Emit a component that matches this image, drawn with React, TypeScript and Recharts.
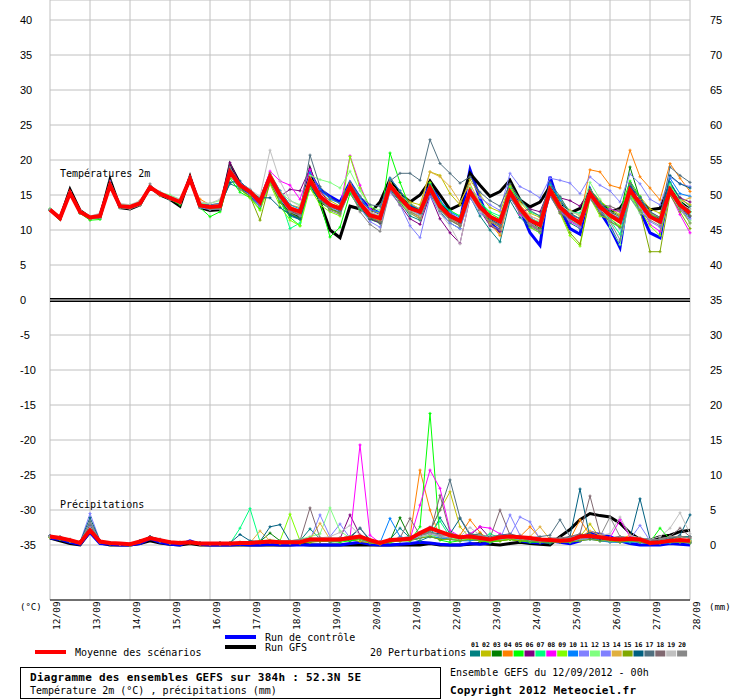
import { LineChart, Line, XAxis, YAxis, CartesianGrid, ReferenceLine } from 'recharts'

// 6-hourly steps from 12/09 00h to 28/09 00h (65 points)
const DAYS = ['12/09', '13/09', '14/09', '15/09', '16/09', '17/09', '18/09', '19/09', '20/09',
  '21/09', '22/09', '23/09', '24/09', '25/09', '26/09', '27/09', '28/09']

const PERT_COLORS = ['#008080', '#c0c000', '#008000', '#ff8000', '#00ff00', '#800080', '#00ff80',
  '#ff00ff', '#80ff00', '#0080ff', '#8080ff', '#80ff80', '#8080ff', '#e0b040', '#80a800', '#006080',
  '#507080', '#806870', '#c0c0c0', '#888888']

// precipitation (mm) shares the axis: 0 mm sits on -35
const PREC_OFFSET = 35

const TEMP_MEAN = [12.9, 11.7, 15.3, 12.6, 11.8, 12.0, 16.4, 13.4, 13.3, 13.8, 16.1, 15.2, 14.6, 14.0, 17.3, 13.5, 13.3, 13.4, 18.3, 16.4, 15.5, 14.0, 17.6, 15.0, 13.1, 12.6, 17.1, 14.8, 13.6, 13.1, 16.2, 13.8, 12.1, 11.7, 16.4, 14.6, 13.1, 12.6, 16.0, 13.4, 12.0, 11.3, 15.5, 13.3, 11.9, 11.2, 15.4, 13.1, 11.4, 10.7, 15.7, 13.3, 11.9, 11.0, 15.2, 13.3, 12.1, 11.2, 15.7, 13.8, 11.9, 11.2, 15.7, 13.6, 12.4]
const TEMP_CTRL = [12.9, 11.7, 15.4, 12.6, 11.7, 12.1, 16.5, 13.3, 13.2, 13.9, 16.0, 15.2, 14.7, 13.9, 17.4, 13.6, 13.2, 13.3, 18.6, 16.0, 15.0, 13.6, 17.4, 14.5, 12.4, 11.6, 17.8, 15.8, 14.8, 14.0, 16.8, 14.6, 13.0, 12.4, 17.0, 15.0, 13.4, 12.8, 16.8, 14.0, 12.3, 11.2, 18.6, 14.5, 11.0, 9.8, 16.8, 13.0, 9.6, 7.8, 17.6, 13.2, 10.2, 9.4, 15.8, 12.6, 10.4, 7.5, 16.8, 12.8, 9.6, 8.9, 16.6, 14.0, 11.7]
const TEMP_GFS = [12.9, 11.6, 15.8, 12.8, 11.8, 11.8, 17.2, 13.2, 13.0, 13.6, 16.2, 15.0, 14.4, 13.4, 17.6, 13.2, 12.8, 12.9, 19.3, 16.6, 15.4, 14.2, 17.8, 14.6, 12.6, 12.0, 18.6, 14.0, 10.0, 8.9, 13.4, 13.0, 12.4, 14.0, 17.2, 15.2, 14.0, 15.0, 17.0, 15.0, 12.9, 13.6, 18.1, 16.4, 14.8, 15.5, 17.1, 14.3, 13.3, 14.0, 16.2, 14.0, 12.4, 13.1, 15.5, 13.8, 12.6, 13.1, 15.2, 14.0, 12.9, 13.1, 16.4, 14.0, 12.9]

const T01 = [12.9, 11.6, 15.2, 12.7, 11.6, 11.8, 16.2, 13.5, 13.4, 13.9, 16.0, 15.0, 14.3, 13.8, 16.8, 13.8, 13.5, 13.6, 16.6, 16.0, 15.2, 13.9, 16.9, 14.0, 12.0, 11.5, 16.0, 14.2, 13.0, 12.4, 15.6, 13.0, 11.5, 11.0, 15.8, 14.0, 12.0, 11.4, 15.2, 12.6, 11.0, 10.2, 14.8, 12.0, 10.0, 8.3, 14.2, 11.8, 10.4, 9.6, 14.9, 12.6, 11.0, 10.2, 14.6, 12.8, 11.6, 10.4, 16.2, 13.4, 12.0, 11.0, 16.8, 14.6, 13.4]
const T02 = [13.0, 11.8, 15.4, 12.5, 11.9, 12.2, 16.5, 13.3, 13.2, 13.7, 16.2, 15.3, 14.8, 14.2, 17.5, 13.3, 13.1, 13.2, 18.6, 16.8, 15.8, 14.4, 18.2, 15.6, 13.6, 13.2, 17.6, 15.4, 14.2, 13.4, 16.8, 14.6, 12.8, 12.4, 17.4, 15.6, 14.0, 13.6, 18.3, 17.8, 15.2, 13.6, 17.2, 15.0, 13.2, 12.6, 16.4, 14.0, 12.4, 11.8, 16.2, 14.0, 12.8, 12.0, 15.8, 14.2, 13.0, 12.2, 16.6, 14.8, 13.0, 12.4, 16.2, 14.4, 13.6]
const T03 = [12.8, 11.6, 15.1, 12.4, 11.7, 11.9, 16.3, 13.6, 13.5, 13.9, 16.0, 15.1, 14.5, 14.0, 17.0, 13.6, 13.2, 13.0, 17.8, 15.8, 14.8, 13.4, 17.0, 14.0, 12.4, 11.8, 16.4, 14.0, 13.0, 12.6, 15.8, 13.2, 11.6, 11.2, 16.8, 15.0, 13.6, 12.8, 16.6, 13.8, 12.4, 11.4, 15.0, 12.8, 11.6, 10.6, 15.0, 12.4, 11.2, 10.2, 16.0, 13.6, 12.4, 11.6, 15.6, 13.6, 12.8, 12.0, 19.0, 14.4, 12.4, 11.6, 15.8, 13.4, 12.0]
const T04 = [12.9, 11.8, 15.3, 12.7, 11.8, 12.1, 16.4, 13.5, 13.3, 14.2, 15.9, 14.9, 14.6, 14.2, 16.9, 14.4, 13.6, 13.8, 17.6, 16.2, 15.6, 13.8, 17.2, 14.6, 12.8, 12.2, 16.8, 14.4, 13.2, 12.8, 15.6, 13.4, 11.8, 11.4, 16.0, 14.2, 12.6, 11.8, 15.6, 13.0, 11.6, 10.8, 15.0, 13.0, 11.0, 9.2, 15.6, 13.6, 12.0, 11.4, 15.8, 13.6, 12.2, 11.6, 18.6, 18.3, 16.4, 16.0, 21.4, 17.6, 16.0, 14.3, 19.5, 17.4, 15.5]
const T05 = [12.8, 11.5, 15.2, 12.4, 11.4, 11.5, 16.3, 13.2, 13.1, 13.6, 16.2, 15.2, 14.4, 13.6, 17.1, 13.2, 11.9, 12.6, 17.4, 15.4, 14.6, 13.0, 17.0, 14.2, 11.8, 10.6, 17.4, 14.0, 9.0, 10.4, 15.2, 13.0, 11.6, 11.0, 21.0, 16.8, 13.2, 12.4, 16.4, 14.0, 12.8, 12.0, 15.8, 13.8, 12.4, 11.6, 15.2, 13.2, 11.0, 10.0, 15.0, 12.8, 11.8, 11.2, 15.8, 14.0, 13.0, 12.6, 17.0, 14.8, 12.2, 11.6, 16.0, 13.8, 12.6]
const T06 = [12.9, 11.7, 15.2, 12.6, 11.9, 12.0, 16.2, 13.3, 13.2, 13.7, 16.0, 15.1, 14.4, 13.8, 17.0, 13.4, 13.4, 13.5, 19.6, 16.6, 15.2, 13.6, 17.0, 14.8, 15.8, 15.6, 18.8, 15.6, 13.8, 12.8, 15.8, 13.4, 11.6, 11.0, 15.6, 13.6, 11.6, 10.8, 15.0, 11.6, 9.6, 8.1, 14.6, 12.8, 10.6, 9.8, 14.6, 12.6, 13.0, 12.6, 16.2, 14.6, 14.2, 13.4, 15.6, 13.6, 12.6, 11.8, 15.8, 14.2, 12.6, 11.6, 16.0, 14.6, 14.0]
const T07 = [13.0, 11.8, 15.4, 12.7, 11.9, 12.1, 16.5, 13.4, 13.3, 13.8, 16.1, 15.2, 14.7, 14.1, 17.3, 13.6, 13.4, 13.5, 18.0, 16.2, 15.4, 13.8, 17.4, 14.6, 10.2, 11.0, 16.6, 14.4, 13.4, 12.8, 16.4, 14.0, 12.4, 12.0, 16.8, 15.0, 13.8, 13.0, 16.6, 14.0, 12.6, 12.0, 16.0, 14.0, 12.6, 12.0, 16.0, 14.4, 12.6, 12.0, 16.4, 14.6, 12.6, 12.4, 15.4, 13.6, 11.4, 9.4, 14.8, 12.8, 12.4, 11.4, 16.6, 14.2, 12.6]
const T08 = [12.9, 11.7, 15.3, 12.5, 11.8, 12.0, 16.5, 13.4, 13.3, 13.8, 16.2, 15.2, 14.6, 14.0, 17.4, 13.5, 13.3, 13.6, 18.4, 16.8, 15.6, 14.4, 18.4, 17.0, 16.4, 14.4, 18.6, 15.2, 13.6, 13.2, 20.6, 16.4, 13.0, 12.4, 16.2, 14.4, 13.2, 12.6, 16.0, 13.6, 12.0, 11.2, 15.6, 13.0, 11.2, 10.4, 15.0, 12.2, 11.0, 10.0, 15.4, 12.8, 11.2, 10.4, 14.6, 13.0, 13.0, 12.6, 15.8, 13.8, 10.8, 9.8, 15.2, 12.2, 9.6]
const T09 = [12.8, 11.6, 15.1, 12.5, 11.6, 11.8, 16.1, 13.2, 13.2, 13.6, 15.9, 15.0, 14.6, 13.9, 17.0, 13.4, 13.2, 13.2, 17.8, 15.8, 14.6, 12.8, 16.6, 13.4, 11.4, 10.6, 16.0, 13.6, 12.6, 12.0, 20.5, 16.0, 13.4, 12.2, 16.6, 14.0, 12.4, 11.6, 16.8, 13.8, 12.0, 11.4, 16.0, 13.6, 12.0, 11.2, 16.2, 13.4, 10.4, 9.6, 15.4, 12.4, 9.2, 7.7, 14.6, 12.0, 11.6, 10.6, 15.0, 13.0, 10.6, 9.2, 15.4, 13.0, 11.0]
const T10 = [12.9, 11.7, 15.4, 12.7, 11.8, 12.0, 16.6, 13.5, 13.4, 14.0, 16.2, 15.4, 14.8, 14.2, 17.6, 13.8, 13.6, 13.8, 18.6, 16.8, 15.8, 14.4, 18.0, 15.6, 13.6, 13.0, 18.2, 15.8, 14.4, 13.8, 16.8, 14.6, 12.8, 12.6, 17.4, 15.6, 13.6, 13.0, 16.4, 14.2, 12.6, 11.8, 15.6, 13.8, 12.0, 11.4, 14.8, 12.8, 11.8, 11.0, 16.6, 14.2, 12.2, 11.6, 15.6, 13.8, 12.6, 11.6, 16.2, 14.6, 12.6, 11.8, 17.4, 15.2, 14.8]
const T11 = [12.9, 11.8, 15.5, 12.8, 11.9, 12.2, 17.0, 13.6, 13.4, 13.9, 16.1, 15.2, 14.6, 14.0, 17.2, 13.6, 13.4, 13.4, 18.4, 16.4, 15.6, 14.2, 17.8, 15.4, 13.2, 12.8, 17.4, 15.0, 13.8, 13.2, 16.4, 14.2, 12.4, 11.8, 16.4, 14.2, 12.8, 12.2, 15.8, 13.2, 12.4, 11.6, 15.8, 14.6, 13.6, 12.8, 18.1, 16.2, 15.5, 14.6, 17.4, 17.1, 16.7, 15.2, 17.6, 16.4, 15.6, 14.0, 18.0, 16.6, 14.4, 13.6, 17.6, 16.6, 16.2]
const T12 = [13.0, 11.7, 15.3, 12.6, 11.8, 12.2, 16.4, 13.6, 13.6, 14.0, 16.2, 15.4, 15.0, 14.4, 17.2, 13.8, 13.8, 14.2, 18.0, 16.4, 15.6, 14.6, 17.6, 15.4, 14.2, 13.6, 17.8, 17.2, 16.8, 16.0, 18.4, 15.6, 13.4, 12.8, 16.6, 14.4, 12.6, 12.0, 15.6, 13.0, 11.4, 10.6, 15.0, 12.8, 11.4, 10.6, 15.6, 13.6, 11.6, 11.2, 16.0, 13.6, 12.6, 12.2, 16.8, 14.4, 10.4, 7.9, 14.6, 12.4, 11.8, 10.8, 16.4, 14.2, 11.4]
const T13 = [12.9, 11.6, 15.2, 12.5, 11.7, 11.9, 16.2, 13.2, 13.1, 13.6, 15.9, 15.0, 14.4, 13.8, 17.0, 13.2, 12.9, 13.0, 17.8, 15.8, 15.0, 13.4, 16.8, 14.4, 12.6, 12.0, 16.6, 14.4, 13.2, 12.6, 15.6, 13.2, 11.2, 10.4, 15.4, 13.6, 10.6, 8.9, 14.8, 12.4, 11.0, 10.2, 14.6, 12.4, 11.4, 10.6, 14.6, 12.6, 10.8, 9.8, 14.8, 12.6, 11.4, 10.4, 14.4, 12.6, 11.4, 10.2, 15.2, 13.2, 11.2, 10.4, 15.0, 12.8, 11.6]
const T14 = [12.9, 11.7, 15.3, 12.6, 11.8, 12.0, 16.4, 13.4, 13.4, 13.9, 16.1, 15.3, 14.7, 14.1, 17.3, 13.5, 13.5, 13.6, 18.2, 16.2, 15.4, 14.0, 17.8, 15.2, 13.4, 12.8, 17.0, 14.8, 13.8, 13.2, 16.6, 14.0, 12.6, 12.0, 16.8, 15.0, 13.8, 13.0, 18.3, 17.6, 16.2, 14.0, 16.6, 13.8, 11.0, 9.4, 14.8, 12.8, 11.6, 10.8, 15.6, 13.2, 12.0, 11.2, 15.6, 13.6, 12.6, 12.0, 16.6, 14.4, 12.4, 11.8, 15.8, 14.0, 14.6]
const T15 = [12.8, 11.6, 15.2, 12.5, 11.6, 11.8, 16.2, 13.3, 13.2, 13.6, 16.0, 15.0, 14.4, 13.8, 17.1, 13.4, 13.0, 13.1, 18.0, 15.9, 14.8, 11.4, 16.8, 14.0, 12.4, 11.6, 16.8, 14.2, 13.0, 12.4, 15.8, 13.4, 11.8, 11.2, 16.2, 14.4, 12.8, 12.0, 15.8, 13.2, 11.4, 10.6, 15.2, 13.0, 11.2, 10.4, 15.4, 12.8, 10.8, 10.0, 15.2, 12.6, 9.6, 8.0, 14.6, 12.4, 11.2, 10.4, 15.4, 12.8, 6.9, 6.9, 15.0, 12.6, 10.2]
const T16 = [12.9, 11.7, 15.3, 12.6, 11.8, 12.0, 16.3, 13.4, 13.3, 13.8, 16.0, 15.1, 14.5, 13.9, 17.2, 13.4, 13.2, 13.3, 16.8, 17.0, 15.4, 14.6, 14.6, 13.2, 12.2, 11.6, 16.4, 14.2, 13.4, 12.8, 16.0, 13.6, 12.0, 11.6, 16.0, 14.2, 13.0, 12.4, 15.8, 13.2, 11.8, 11.0, 15.4, 13.2, 11.6, 10.8, 15.4, 13.0, 11.4, 10.8, 15.8, 13.4, 12.0, 11.2, 15.4, 13.6, 12.6, 11.8, 16.2, 14.6, 12.0, 11.4, 17.8, 16.6, 16.0]
const T17 = [12.9, 11.7, 15.3, 12.6, 11.8, 12.0, 16.4, 13.4, 13.3, 13.8, 16.2, 15.2, 14.6, 14.0, 17.4, 13.6, 13.4, 13.5, 18.8, 16.6, 15.6, 14.0, 17.6, 15.0, 13.2, 12.6, 20.7, 16.2, 14.6, 13.8, 16.8, 14.8, 13.6, 13.4, 17.0, 18.1, 18.1, 17.1, 22.9, 19.5, 18.1, 16.7, 17.6, 15.4, 14.2, 13.4, 16.6, 14.4, 12.8, 12.0, 16.8, 14.8, 12.4, 11.6, 15.8, 14.0, 12.4, 11.6, 16.6, 14.6, 12.6, 11.8, 19.0, 17.8, 16.8]
const T18 = [12.9, 11.7, 15.3, 12.6, 11.8, 12.0, 16.3, 13.4, 13.3, 13.8, 16.1, 15.2, 14.5, 13.9, 17.2, 13.4, 13.2, 13.3, 18.2, 16.2, 15.2, 13.8, 17.4, 14.8, 12.8, 12.2, 16.8, 14.4, 13.4, 12.8, 15.8, 13.4, 11.8, 11.2, 16.0, 14.2, 12.6, 12.0, 15.4, 12.8, 11.4, 10.6, 15.0, 12.8, 11.4, 10.6, 14.8, 12.6, 10.6, 9.8, 15.0, 12.4, 11.6, 10.8, 14.8, 13.6, 13.4, 12.8, 15.4, 13.8, 12.2, 11.4, 15.4, 13.0, 12.0]
const T19 = [12.9, 11.8, 15.4, 12.8, 12.0, 12.4, 16.4, 13.8, 13.6, 14.2, 16.2, 15.4, 14.8, 14.4, 17.4, 14.0, 13.8, 14.4, 17.6, 16.6, 15.8, 14.8, 21.4, 17.0, 14.2, 13.4, 17.4, 15.0, 13.8, 13.2, 16.4, 14.2, 12.6, 12.0, 16.4, 14.8, 12.8, 12.0, 15.6, 12.4, 10.6, 8.0, 14.8, 12.6, 11.8, 11.0, 15.2, 13.2, 12.0, 11.4, 15.4, 13.6, 12.6, 12.2, 15.0, 13.4, 12.4, 11.8, 15.6, 13.4, 12.0, 11.2, 15.6, 13.8, 13.0]
const T20 = [12.8, 11.6, 15.2, 12.4, 11.6, 11.7, 16.2, 13.2, 13.0, 13.5, 16.6, 15.0, 14.4, 13.8, 17.6, 13.4, 13.0, 13.0, 19.0, 16.6, 15.4, 13.6, 17.4, 14.6, 12.6, 12.0, 17.0, 14.4, 12.8, 12.2, 15.6, 12.6, 10.8, 9.8, 15.6, 13.6, 12.4, 11.6, 15.4, 12.8, 11.6, 10.8, 15.2, 13.0, 10.8, 10.0, 14.8, 12.4, 10.8, 10.0, 15.4, 13.0, 11.4, 10.6, 15.0, 12.8, 11.2, 8.6, 14.6, 12.6, 11.4, 10.6, 15.4, 13.4, 11.0]

const PREC_MEAN = [1.2, 1.0, 0.7, 0.3, 2.1, 0.5, 0.3, 0.2, 0.1, 0.5, 1.0, 0.7, 0.4, 0.3, 0.4, 0.2, 0.2, 0.2, 0.2, 0.3, 0.3, 0.4, 0.5, 0.4, 0.4, 0.4, 0.8, 0.8, 0.8, 0.8, 1.0, 1.2, 0.7, 0.3, 0.7, 0.8, 0.9, 1.7, 2.4, 1.9, 1.4, 1.1, 1.2, 1.0, 0.8, 1.1, 1.2, 1.1, 1.0, 0.8, 0.7, 0.6, 0.7, 1.2, 1.3, 1.1, 0.9, 0.8, 0.9, 0.8, 0.3, 0.4, 0.6, 0.7, 0.6]
const PREC_CTRL = [1.0, 0.8, 0.4, 0.1, 1.8, 0.2, 0.1, 0, 0, 0.2, 0.9, 0.4, 0.1, 0, 0.6, 0.1, 0, 0, 0, 0.1, 0, 0, 0.1, 0, 0, 0, 0, 0, 0, 0, 0.2, 0.4, 0.1, 0, 0, 0.1, 0.2, 0.4, 0.3, 0.1, 0, 0, 0.2, 0.1, 0.3, 1.4, 1.2, 0.6, 0.4, 0.3, 0.6, 0.4, 0.2, 0.6, 1.8, 1.5, 1.2, 0.6, 0.2, 0, 0, 0, 0.2, 0.1, 0]
const PREC_GFS = [1.0, 0.6, 0.2, 0, 1.9, 0.3, 0, 0, 0, 0.2, 0.6, 0.3, 0.1, 0, 0.2, 0, 0, 0, 0, 0, 0, 0, 0, 0, 0, 0.1, 0, 0, 0, 0, 0, 0, 0, 0, 0, 0, 0, 0, 0.2, 0, 0, 0, 0.1, 0.2, 0.1, 0, 0.2, 0.4, 0.2, 0.1, 0, 1.2, 2.2, 3.6, 4.5, 4.2, 4.0, 3.1, 1.7, 0.8, 0.7, 1.2, 1.4, 1.9, 2.1]

const R01 = [1.3, 1.0, 0.6, 0.4, 2.8, 0.5, 0.2, 0.1, 0, 0.4, 1.2, 0.8, 0.5, 0.3, 0.4, 0.2, 0.1, 0.2, 0.1, 0.3, 0.2, 0.3, 0.6, 0.4, 0.5, 0.6, 2.3, 0.9, 0.4, 0.6, 0.8, 1.0, 0.6, 0.2, 0.8, 2.4, 1.0, 0.6, 1.2, 3.9, 1.6, 0.8, 1.0, 0.6, 0.4, 0.8, 1.2, 0.6, 0.8, 0.4, 0.2, 0.6, 0.4, 0.8, 1.0, 0.6, 0.5, 0.4, 0.6, 0.4, 0.2, 0.4, 0.6, 1.2, 1.2]
const R02 = [1.1, 0.9, 0.7, 0.2, 2.2, 0.4, 0.2, 0.1, 0.1, 0.6, 1.0, 0.6, 0.3, 0.4, 0.3, 0.1, 0.2, 0.1, 0.2, 0.2, 0.3, 0.6, 0.4, 0.2, 0.2, 0.3, 0.4, 0.6, 1.0, 0.6, 0.8, 0.5, 0.3, 0.1, 0.5, 0.6, 0.8, 1.4, 2.0, 5.0, 7.6, 2.6, 1.0, 0.6, 0.4, 0.6, 0.8, 1.4, 0.6, 0.4, 0.8, 0.5, 0.6, 1.2, 3.0, 1.0, 0.4, 0.6, 0.8, 0.5, 0.2, 0.3, 0.6, 0.4, 0.5]
const R03 = [1.2, 1.1, 0.6, 0.3, 2.4, 0.5, 0.3, 0.2, 0.1, 0.5, 1.1, 0.7, 0.4, 0.2, 0.5, 0.3, 0.2, 0.3, 0.2, 0.4, 0.3, 0.5, 1.7, 0.6, 0.4, 0.5, 0.6, 0.7, 0.6, 0.8, 0.6, 0.9, 0.4, 0.2, 0.6, 3.9, 1.0, 1.6, 1.2, 0.8, 1.0, 0.8, 1.4, 1.6, 0.6, 1.0, 0.8, 0.6, 0.8, 0.6, 0.4, 0.4, 0.6, 1.4, 1.6, 1.0, 0.8, 1.0, 0.6, 0.4, 0.2, 0.2, 0.4, 0.6, 0.3]
const R04 = [1.2, 1.0, 0.8, 0.3, 2.0, 0.6, 0.3, 0.1, 0.1, 0.5, 1.0, 0.7, 0.4, 0.3, 0.4, 0.2, 0.2, 0.2, 0.3, 0.2, 0.3, 0.4, 0.6, 0.5, 0.4, 0.3, 0.8, 0.6, 0.6, 1.0, 1.2, 0.8, 0.5, 0.3, 0.6, 0.8, 1.2, 10.7, 5.0, 1.0, 0.8, 1.4, 3.6, 1.8, 0.6, 0.8, 1.0, 1.2, 2.6, 1.0, 0.6, 0.6, 0.8, 3.6, 1.4, 1.0, 0.6, 0.8, 1.4, 0.8, 0.4, 0.4, 0.8, 1.2, 1.0]
const R05 = [1.1, 0.8, 0.5, 0.2, 2.0, 0.4, 0.2, 0.1, 0, 0.4, 0.9, 0.6, 0.3, 0.2, 0.3, 0.1, 0.1, 0.1, 0.2, 0.2, 0.2, 0.3, 0.4, 0.3, 0.3, 0.2, 0.6, 0.7, 0.5, 0.4, 0.6, 0.8, 0.6, 0.2, 0.4, 0.6, 0.6, 2.6, 18.8, 0.7, 0.4, 0.6, 0.8, 0.6, 0.4, 0.6, 0.8, 0.6, 0.4, 0.4, 0.6, 0.4, 0.4, 0.8, 1.0, 0.8, 0.6, 0.6, 0.4, 0.6, 0.4, 2.4, 0.8, 0.6, 0.4]
const R06 = [1.3, 1.1, 0.7, 0.4, 2.5, 0.5, 0.3, 0.2, 0.1, 0.6, 1.1, 0.7, 0.4, 0.3, 0.4, 0.2, 0.2, 0.2, 0.2, 0.3, 0.3, 0.4, 0.5, 0.4, 0.4, 0.5, 0.7, 0.8, 0.8, 0.9, 4.3, 1.4, 0.6, 0.4, 0.8, 0.6, 0.8, 1.2, 1.6, 1.2, 1.0, 0.8, 1.4, 2.6, 1.0, 0.8, 1.2, 1.0, 0.8, 0.6, 0.6, 0.4, 0.6, 1.0, 1.4, 1.2, 0.8, 0.6, 0.8, 0.6, 0.3, 0.4, 0.6, 0.8, 0.6]
const R07 = [1.2, 0.9, 0.6, 0.3, 2.3, 0.4, 0.2, 0.1, 0, 0.5, 1.0, 0.6, 0.4, 0.3, 0.4, 0.2, 0.2, 0.1, 0.2, 2.4, 5.2, 0.5, 0.4, 0.3, 0.3, 0.4, 0.6, 0.6, 0.6, 0.7, 0.8, 1.0, 0.5, 0.2, 0.6, 0.8, 1.0, 1.4, 1.8, 3.4, 1.2, 1.0, 0.8, 0.8, 1.6, 1.0, 0.8, 0.8, 0.6, 0.6, 0.8, 0.6, 0.6, 1.0, 1.2, 0.8, 0.6, 0.8, 0.6, 0.6, 0.2, 0.3, 0.4, 0.6, 0.8]
const R08 = [1.2, 1.0, 0.7, 0.3, 2.2, 0.5, 0.3, 0.1, 0.1, 0.5, 1.0, 0.7, 0.4, 0.3, 0.4, 0.2, 0.2, 0.2, 0.2, 0.3, 0.3, 0.4, 0.5, 0.4, 0.4, 0.4, 0.8, 0.6, 0.6, 0.8, 1.0, 14.3, 1.4, 0.3, 0.6, 0.8, 0.8, 5.7, 10.7, 8.1, 2.1, 1.2, 1.6, 2.6, 2.4, 1.6, 1.0, 0.8, 0.6, 0.6, 0.8, 0.6, 0.8, 1.2, 1.4, 1.0, 1.0, 3.6, 1.2, 0.6, 0.2, 0.4, 0.8, 0.6, 0.4]
const R09 = [1.1, 1.0, 0.6, 0.3, 2.1, 0.4, 0.2, 0.1, 0.1, 0.5, 1.0, 0.7, 0.3, 0.3, 0.4, 0.2, 0.1, 0.2, 0.3, 0.3, 0.4, 0.6, 0.7, 0.6, 4.4, 0.6, 0.8, 0.6, 0.7, 0.6, 0.8, 1.0, 0.6, 0.3, 0.6, 0.6, 0.8, 1.2, 1.4, 1.0, 1.0, 0.6, 0.8, 0.6, 0.6, 0.8, 0.8, 0.6, 0.6, 0.6, 0.6, 0.5, 0.6, 1.0, 1.0, 0.6, 0.6, 0.6, 0.6, 0.4, 0.3, 0.4, 0.5, 0.6, 0.5]
const R10 = [1.2, 1.0, 0.6, 0.3, 2.6, 0.5, 0.3, 0.1, 0.1, 0.5, 1.0, 0.6, 0.4, 0.3, 0.5, 0.2, 0.1, 0.2, 0.2, 0.3, 0.3, 0.4, 0.5, 0.4, 0.3, 0.4, 0.6, 0.6, 0.6, 0.6, 0.8, 0.8, 0.4, 0.3, 3.8, 1.2, 0.8, 1.0, 1.2, 1.0, 0.8, 0.6, 0.6, 0.8, 0.6, 0.8, 1.0, 0.8, 0.6, 0.4, 0.4, 0.4, 0.4, 0.6, 0.8, 0.6, 0.4, 0.4, 0.4, 0.4, 0.2, 0.2, 0.3, 0.4, 0.3]
const R11 = [1.3, 1.1, 0.7, 0.4, 4.5, 0.6, 0.3, 0.2, 0.1, 0.6, 1.1, 0.7, 0.4, 0.3, 0.4, 0.2, 0.2, 0.2, 0.2, 0.3, 0.3, 0.4, 0.6, 0.5, 0.4, 0.5, 0.7, 4.3, 1.2, 3.0, 1.0, 1.2, 0.6, 0.4, 0.8, 0.8, 1.0, 1.4, 2.6, 1.6, 1.2, 1.0, 1.4, 1.2, 1.0, 0.8, 4.3, 1.4, 0.8, 0.6, 0.8, 0.6, 0.6, 0.8, 1.0, 0.8, 0.8, 1.0, 0.8, 2.8, 0.6, 0.6, 0.8, 0.8, 0.6]
const R12 = [1.1, 0.9, 0.6, 0.3, 2.3, 0.4, 0.2, 0.1, 0, 0.5, 1.0, 0.6, 0.3, 0.3, 0.4, 0.2, 0.2, 0.2, 0.2, 0.2, 0.3, 0.4, 0.5, 0.6, 0.6, 0.8, 1.2, 1.6, 5.3, 2.0, 1.0, 0.8, 0.5, 0.2, 0.6, 0.8, 1.0, 1.2, 1.4, 1.2, 1.0, 0.8, 1.0, 0.8, 0.6, 0.8, 1.0, 0.8, 0.8, 0.6, 0.6, 0.6, 0.6, 0.8, 1.0, 0.8, 0.6, 0.6, 0.8, 0.6, 0.4, 0.6, 1.2, 0.6, 0.6]
const R13 = [1.2, 1.0, 0.6, 0.3, 2.7, 0.5, 0.3, 0.1, 0.1, 0.5, 1.0, 0.7, 0.4, 0.3, 0.4, 0.2, 0.2, 0.2, 0.2, 0.3, 0.3, 0.4, 0.5, 0.4, 0.4, 0.4, 0.6, 0.8, 0.8, 0.8, 1.0, 1.2, 0.6, 0.3, 0.6, 0.8, 0.8, 1.2, 1.6, 1.2, 1.0, 1.2, 1.4, 1.0, 0.8, 1.0, 1.4, 4.0, 3.3, 0.8, 0.6, 0.6, 0.6, 0.8, 1.0, 0.8, 0.6, 0.8, 0.6, 0.6, 0.4, 0.4, 0.6, 0.6, 0.4]
const R14 = [1.2, 1.0, 0.7, 0.3, 2.2, 0.5, 0.2, 0.1, 0.1, 0.5, 1.0, 0.6, 0.4, 0.3, 0.4, 0.2, 0.2, 0.2, 0.2, 0.3, 0.3, 2.0, 0.6, 0.4, 0.4, 0.5, 0.8, 3.1, 0.8, 0.8, 1.2, 1.0, 0.6, 0.4, 0.8, 0.8, 1.0, 1.4, 1.8, 1.4, 1.2, 1.0, 1.2, 1.2, 1.0, 1.4, 1.2, 1.0, 1.2, 2.6, 0.8, 0.6, 0.6, 1.2, 2.0, 1.4, 1.0, 0.8, 0.8, 0.6, 0.4, 0.4, 0.6, 0.8, 0.6]
const R15 = [1.1, 0.9, 0.5, 0.2, 2.0, 0.4, 0.2, 0.1, 0, 0.4, 0.9, 0.6, 0.3, 0.2, 0.3, 0.1, 0.1, 0.1, 0.1, 0.2, 0.2, 0.3, 0.4, 0.3, 0.3, 0.3, 0.4, 0.5, 0.5, 0.6, 0.8, 0.8, 0.4, 0.2, 0.4, 0.6, 0.6, 1.0, 1.2, 0.8, 0.8, 0.6, 0.8, 0.6, 0.6, 0.6, 0.8, 0.6, 0.6, 0.4, 0.4, 0.4, 0.4, 0.6, 0.8, 0.6, 0.6, 0.4, 0.6, 0.4, 0.2, 0.3, 0.4, 0.4, 0.3]
const R16 = [1.3, 1.1, 0.7, 0.4, 3.9, 0.6, 0.3, 0.2, 0.1, 0.6, 1.2, 0.8, 0.5, 0.3, 0.5, 0.3, 0.2, 0.3, 0.3, 1.5, 0.6, 0.5, 2.6, 2.9, 0.5, 0.6, 0.8, 0.8, 0.8, 0.8, 1.0, 2.4, 0.6, 0.3, 0.8, 1.0, 1.0, 1.4, 1.8, 1.6, 1.6, 3.8, 1.4, 1.2, 1.0, 1.2, 1.4, 1.0, 0.8, 0.6, 0.8, 0.8, 1.2, 8.0, 1.0, 0.8, 0.8, 1.0, 1.0, 6.6, 0.8, 0.6, 0.8, 1.4, 4.3]
const R17 = [1.3, 1.1, 0.8, 0.4, 3.4, 0.6, 0.3, 0.2, 0.1, 0.6, 1.2, 0.8, 0.5, 0.3, 0.5, 0.3, 0.2, 0.3, 0.3, 0.3, 0.4, 0.5, 0.6, 0.5, 0.5, 0.6, 0.8, 0.8, 0.8, 1.0, 1.2, 2.4, 0.8, 0.4, 0.8, 1.0, 1.2, 1.6, 2.0, 5.0, 9.3, 3.9, 1.6, 1.4, 1.2, 1.4, 1.6, 1.2, 1.0, 1.2, 1.4, 3.6, 1.2, 1.4, 1.6, 1.2, 1.0, 1.2, 1.0, 0.8, 0.6, 0.8, 1.0, 1.2, 1.0]
const R18 = [1.2, 1.0, 0.7, 0.3, 2.8, 0.5, 0.3, 0.1, 0.1, 0.5, 1.1, 0.7, 0.4, 0.3, 0.4, 0.2, 0.2, 0.2, 0.2, 0.3, 0.3, 0.4, 0.5, 0.4, 0.4, 0.6, 5.3, 1.0, 0.6, 0.8, 1.0, 1.2, 0.6, 0.4, 0.8, 1.0, 3.8, 1.4, 1.6, 7.1, 1.8, 1.2, 1.4, 1.2, 1.0, 5.0, 1.4, 1.0, 0.8, 0.8, 1.0, 1.0, 1.2, 1.6, 7.0, 1.6, 1.0, 1.2, 1.0, 0.8, 0.6, 0.8, 1.2, 2.4, 1.2]
const R19 = [1.2, 1.0, 0.6, 0.3, 2.4, 0.5, 0.2, 0.1, 0.1, 0.5, 1.0, 0.7, 0.4, 0.3, 0.4, 0.2, 0.2, 0.2, 0.2, 0.3, 0.3, 0.4, 0.6, 0.5, 0.5, 0.6, 0.8, 1.0, 1.2, 1.8, 2.8, 1.4, 0.8, 0.4, 0.8, 1.0, 1.0, 1.2, 1.6, 1.4, 1.4, 1.2, 2.5, 1.4, 1.0, 1.2, 1.0, 1.0, 0.8, 0.6, 0.8, 0.8, 0.8, 1.0, 1.2, 1.4, 1.6, 4.0, 1.4, 1.0, 0.8, 1.2, 2.4, 4.6, 1.6]
const R20 = [1.3, 1.2, 0.8, 0.5, 3.1, 0.6, 0.3, 0.2, 0.1, 0.6, 1.1, 0.7, 0.5, 0.4, 0.5, 0.3, 0.2, 0.3, 0.3, 0.3, 0.4, 0.5, 0.6, 0.6, 0.6, 0.8, 1.0, 1.0, 1.0, 1.0, 1.2, 1.4, 0.8, 0.4, 0.8, 1.0, 1.0, 1.4, 1.8, 1.4, 1.4, 1.2, 1.2, 1.4, 1.0, 1.2, 1.4, 1.2, 1.0, 0.8, 0.8, 1.0, 1.0, 1.2, 1.4, 1.2, 4.0, 1.2, 1.0, 1.0, 0.8, 0.8, 1.2, 1.2, 1.0]

const TEMP_PERTS = [T01, T02, T03, T04, T05, T06, T07, T08, T09, T10, T11, T12, T13, T14, T15, T16, T17, T18, T19, T20]
const PREC_PERTS = [R01, R02, R03, R04, R05, R06, R07, R08, R09, R10, R11, R12, R13, R14, R15, R16, R17, R18, R19, R20]

const Y_TICKS = [40, 35, 30, 25, 20, 15, 10, 5, 0, -5, -10, -15, -20, -25, -30, -35]
const X_TICKS = DAYS.map((_, i) => i * 4)
const LIM = 300 / 7

const MONO = '"DejaVu Sans Mono", monospace'
const SANS = '"Liberation Sans", Arial, sans-serif'

const rows = TEMP_MEAN.map((v, i) => {
  const r: Record<string, number> = {
    t: i,
    tm: v,
    tc: TEMP_CTRL[i],
    tg: TEMP_GFS[i],
    rm: PREC_MEAN[i] - PREC_OFFSET,
    rc: PREC_CTRL[i] - PREC_OFFSET,
    rg: PREC_GFS[i] - PREC_OFFSET,
  }
  TEMP_PERTS.forEach((a, k) => { r['pt' + k] = a[i] })
  PREC_PERTS.forEach((a, k) => { r['pr' + k] = a[i] - PREC_OFFSET })
  return r
})

const cross = (color: string) => (p: any) => (
  <path
    key={`${p.dataKey}-${p.index}`}
    d={`M${p.cx - 1.5},${p.cy}h3M${p.cx},${p.cy - 1.5}v3`}
    stroke={color}
    strokeWidth={1}
    fill="none"
  />
)

const LeftTick = ({ y, payload }: any) => (
  <text x={20} y={y + 4} fontFamily={SANS} fontSize={11} fill="#000">{payload.value}</text>
)
const RightTick = ({ y, payload }: any) => (
  <text x={710} y={y + 4} fontFamily={SANS} fontSize={11} fill="#000">{payload.value + PREC_OFFSET}</text>
)
const DateTick = ({ x, payload }: any) => (
  <text x={x + 10} y={630} transform={`rotate(-90 ${x + 10} 630)`} fontFamily={MONO} fontSize={9.5} fill="#000">
    {DAYS[Math.round(payload.value / 4)]}
  </text>
)

const CHART = { width: 740, height: 640, margin: { top: 0, right: 0, bottom: 0, left: 0 } }

function Legend() {
  return (
    <svg width={740} height={700} style={{ position: 'absolute', left: 0, top: 0, pointerEvents: 'none' }}>
      <g fontFamily={MONO} fontSize={10} fill="#000">
        <text x={60} y={177}>Températures 2m</text>
        <text x={60} y={508}>Précipitations</text>
        <text x={20} y={610} fontSize={9}>(°C)</text>
        <text x={709} y={610} fontSize={9}>(mm)</text>

        <line x1={35} x2={66} y1={652} y2={652} stroke="#ff0000" strokeWidth={4} />
        <text x={75} y={655.5}>Moyenne des scénarios</text>
        <line x1={225} x2={256} y1={637} y2={637} stroke="#0000ff" strokeWidth={4} />
        <text x={265} y={640.5}>Run de contrôle</text>
        <line x1={225} x2={256} y1={647} y2={647} stroke="#000" strokeWidth={4} />
        <text x={265} y={651}>Run GFS</text>

        <text x={370} y={655.5}>20 Perturbations</text>
        {PERT_COLORS.map((c, k) => (
          <g key={k}>
            <text x={475 + k * 10.9} y={646.5} fontSize={6.5} fontWeight="bold" textAnchor="middle">
              {String(k + 1).padStart(2, '0')}
            </text>
            <rect x={470 + k * 10.9} y={650.5} width={10} height={6} fill={c} />
          </g>
        ))}

        <rect x={20.5} y={667.5} width={420} height={31} fill="none" stroke="#000" />
        <text x={30} y={681} fontSize={11} fontWeight="bold" letterSpacing={0.28}>
          Diagramme des ensembles GEFS sur 384h : 52.3N 5E
        </text>
        <text x={30} y={694}>Température 2m (°C) , précipitations (mm)</text>
        <text x={450} y={676}>Ensemble GEFS du 12/09/2012 - 00h</text>
        <text x={450} y={694} fontSize={11} fontWeight="bold" letterSpacing={0.28}>Copyright 2012 Meteociel.fr</text>
      </g>
    </svg>
  )
}

export default function App() {
  return (
    <div style={{ position: 'absolute', left: 0, top: 0, width: 740, height: 700, background: '#fff', overflow: 'hidden' }}>
      {/* grid, axes, control + GFS runs and the 20 perturbations above them */}
      <LineChart {...CHART} data={rows}>
        <CartesianGrid yAxisId="l" stroke="#c0c0c0" />
        <XAxis dataKey="t" type="number" domain={[0, 64]} ticks={X_TICKS} interval={0}
          tick={DateTick} tickLine={false} axisLine={{ stroke: '#000' }} height={40} />
        <YAxis yAxisId="l" width={50} domain={[-LIM, LIM]} allowDataOverflow ticks={Y_TICKS} interval={0}
          tick={LeftTick} tickLine={false} axisLine={false} />
        <YAxis yAxisId="r" orientation="right" width={50} domain={[-LIM, LIM]} allowDataOverflow ticks={Y_TICKS}
          interval={0} tick={RightTick} tickLine={false} axisLine={false} />
        <ReferenceLine yAxisId="l" y={0} stroke="#000" strokeWidth={4} />
        <ReferenceLine yAxisId="l" y={0} stroke="#fff" strokeWidth={1.2} />

        <Line yAxisId="l" dataKey="rg" stroke="#000" strokeWidth={3} dot={false} activeDot={false} isAnimationActive={false} />
        <Line yAxisId="l" dataKey="rc" stroke="#0000ff" strokeWidth={3} dot={false} activeDot={false} isAnimationActive={false} />
        <Line yAxisId="l" dataKey="tc" stroke="#0000ff" strokeWidth={3} dot={false} activeDot={false} isAnimationActive={false} />
        <Line yAxisId="l" dataKey="tg" stroke="#000" strokeWidth={3} dot={false} activeDot={false} isAnimationActive={false} />

        {PERT_COLORS.map((c, k) => (
          <Line key={'pr' + k} yAxisId="l" dataKey={'pr' + k} stroke={c} strokeWidth={1}
            dot={cross(c)} activeDot={false} isAnimationActive={false} />
        ))}
        {PERT_COLORS.map((c, k) => (
          <Line key={'pt' + k} yAxisId="l" dataKey={'pt' + k} stroke={c} strokeWidth={1}
            dot={cross(c)} activeDot={false} isAnimationActive={false} />
        ))}
      </LineChart>

      {/* ensemble mean drawn on top of everything */}
      <div style={{ position: 'absolute', left: 0, top: 0 }}>
        <LineChart {...CHART} data={rows}>
          <XAxis dataKey="t" type="number" domain={[0, 64]} ticks={X_TICKS} tick={false} tickLine={false}
            axisLine={false} height={40} />
          <YAxis yAxisId="l" width={50} domain={[-LIM, LIM]} allowDataOverflow tick={false} tickLine={false} axisLine={false} />
          <YAxis yAxisId="r" orientation="right" width={50} domain={[-LIM, LIM]} tick={false} tickLine={false} axisLine={false} />
          <Line yAxisId="l" dataKey="rm" stroke="#ff0000" strokeWidth={4} dot={false} activeDot={false} isAnimationActive={false} />
          <Line yAxisId="l" dataKey="tm" stroke="#ff0000" strokeWidth={4} dot={false} activeDot={false} isAnimationActive={false} />
        </LineChart>
      </div>
      <Legend />
    </div>
  )
}
